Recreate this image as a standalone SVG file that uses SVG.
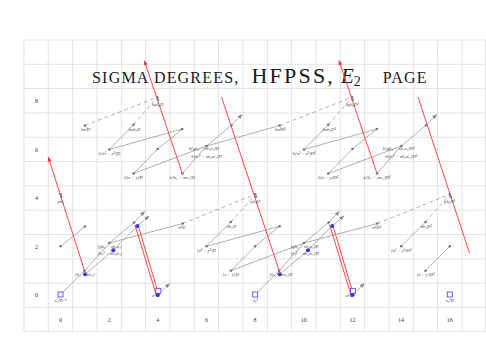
<svg xmlns="http://www.w3.org/2000/svg" width="486" height="350" viewBox="0 0 486 350">
<defs>
<style>
.grid{stroke:#dcdcdc;stroke-width:0.8;fill:none}
.ln{stroke:#9a9a9a;stroke-width:0.8;fill:none}
.ds{stroke:#9a9a9a;stroke-width:0.8;fill:none;stroke-dasharray:4 3}
.rd{stroke:#ff4545;stroke-width:1;fill:none}
.gd{fill:#777}
.bd{fill:#3535dd}
.sq{fill:#fff;stroke:#3c3cff;stroke-width:0.8}
.lb{font-family:"Liberation Serif",serif;font-style:italic;font-size:4.6px;fill:#444;text-anchor:middle}
.ax{font-family:"Liberation Serif",serif;font-size:6px;fill:#333;text-anchor:middle}
</style>
<marker id="ag" viewBox="0 0 10 10" refX="9" refY="5" markerWidth="5" markerHeight="5" markerUnits="userSpaceOnUse" orient="auto"><path d="M0,1 L10,5 L0,9 z" fill="#888"/></marker>
<marker id="ar" viewBox="0 0 10 10" refX="9" refY="5" markerWidth="5" markerHeight="5" markerUnits="userSpaceOnUse" orient="auto"><path d="M0,1 L10,5 L0,9 z" fill="#ff3030"/></marker>
</defs>
<rect width="486" height="350" fill="#fff"/>
<g id="grid">
<path class="grid" d="M24,40V331.7M48.3,40V331.7M72.7,40V331.7M97,40V331.7M121.3,40V331.7M145.6,40V331.7M170,40V331.7M194.3,40V331.7M218.6,40V331.7M243,40V331.7M267.3,40V331.7M291.6,40V331.7M316,40V331.7M340.3,40V331.7M364.6,40V331.7M389,40V331.7M413.3,40V331.7M437.6,40V331.7M462,40V331.7M485.6,40V331.7"/>
<path class="grid" d="M24,40H486M24,64.3H486M24,88.6H486M24,112.9H486M24,137.2H486M24,161.6H486M24,185.9H486M24,210.2H486M24,234.5H486M24,258.8H486M24,283.1H486M24,307.4H486M24,331.7H486"/>
</g>
<g id="axes">
<text class="ax" x="36.5" y="297">0</text>
<text class="ax" x="36.5" y="248.8">2</text>
<text class="ax" x="36.5" y="200.2">4</text>
<text class="ax" x="36.5" y="151.6">6</text>
<text class="ax" x="36.5" y="103">8</text>
<text class="ax" x="60.5" y="321.5">0</text>
<text class="ax" x="109.2" y="321.5">2</text>
<text class="ax" x="157.8" y="321.5">4</text>
<text class="ax" x="206.5" y="321.5">6</text>
<text class="ax" x="255.1" y="321.5">8</text>
<text class="ax" x="303.8" y="321.5">10</text>
<text class="ax" x="352.5" y="321.5">12</text>
<text class="ax" x="401.1" y="321.5">14</text>
<text class="ax" x="449.8" y="321.5">16</text>
</g>
<text id="title" y="82.5" font-family="Liberation Serif, serif" fill="#1a1a1a"><tspan x="92" font-size="16" letter-spacing="1.2">SIGMA DEGREES,</tspan><tspan x="251.5" font-size="22" letter-spacing="2.2">HFPSS,</tspan><tspan x="341" font-size="21" font-style="italic">E</tspan><tspan font-size="14" dy="3">2</tspan><tspan x="382.7" dy="-3" font-size="16" letter-spacing="1.2">PAGE</tspan></text>
<g id="connectors">
<path class="ln" d="M62.5,292.5L84.5,270.7M257.2,292.5L279.2,270.7"/>
<path class="ln" marker-end="url(#ag)" d="M84.5,270.7L109.3,243L134,222.5L144.5,211.5"/>
<path class="ln" marker-end="url(#ag)" d="M85,274.3L113.3,250.3L137.5,226L149,216"/>
<path class="ln" marker-end="url(#ag)" d="M279.2,270.7L304,243L328.7,222.5L339.2,211.5"/>
<path class="ln" marker-end="url(#ag)" d="M279.7,274.3L308,250.3L332.2,226L343.7,216"/>
<path class="ln" marker-end="url(#ag)" d="M157.8,295L169.5,283.5"/>
<path class="ln" marker-end="url(#ag)" d="M352.5,295L364.2,283.5"/>
<path class="ln" d="M109.3,243L182.7,223.5M304,243L377.4,223.5"/>
<path class="ln" marker-end="url(#ag)" d="M182.3,173.5L206.6,146L231.3,125.3L242,114.5"/>
<path class="ln" marker-end="url(#ag)" d="M377,173.5L401.3,146L426,125.3L436.7,114.5"/>
<path class="ln" d="M206.6,146L279.6,125.5"/>
<path class="ln" d="M230.8,270.7L255.1,246.3L279.5,226.3M206.5,246.3L230.8,222M206.5,246.3L279.5,226.3M230.8,270.7L304,243"/>
<path class="ln" d="M425.5,270.7L449.8,246.3M401.2,246.3L425.5,222"/>
<path class="ln" d="M60.6,246.3L84.9,226.5"/>
<path class="ln" d="M133.5,173.5L157.8,149L182.2,129M109.3,149.5L133.5,124.8M109.3,149.5L182.2,129M133.5,173.5L206.6,146"/>
<path class="ln" d="M328.2,173.5L352.5,149L376.9,129M304,149.5L328.2,124.8M304,149.5L376.9,129M328.2,173.5L401.3,146"/>
<path class="ds" d="M182.7,223.5L255.3,194.3M230.8,222L255.3,194.3M377.4,223.5L449.9,194.3M425.5,222L449.9,194.3"/>
<path class="ds" d="M84.9,125.5L157.3,97.3M133.5,124.8L157.3,97.3M279.6,125.5L352,97.3M328.2,124.8L352,97.3"/>
<path class="rd" marker-end="url(#ar)" d="M84.5,270.7L48.3,157"/>
<path class="rd" marker-end="url(#ar)" d="M182.3,173.5L144.3,60.7"/>
<path class="rd" marker-end="url(#ar)" d="M377,173.5L339,60.7"/>
<path class="rd" d="M279.2,270.7L221.5,97M469.5,253L418,97"/>
<path class="rd" d="M135,225L156,294M138.3,226L158.3,293.3M329.7,225L350.7,294M333,226L353,293.3"/>
</g>
<g id="n0_0"><rect class="sq" x="58" y="292" width="5" height="5"/><text class="lb" x="60.5" y="302">x₂²D⁻¹</text></g>
<g id="n4_0"><rect class="sq" x="155.8" y="288.3" width="5" height="5"/><circle class="bd" cx="157.8" cy="295" r="2.1"/><text class="lb" x="155.5" y="297" text-anchor="end">α²D</text></g>
<g id="n8_0"><rect class="sq" x="252.7" y="292" width="5" height="5"/><text class="lb" x="255.2" y="302">x₂²</text></g>
<g id="n12_0"><rect class="sq" x="350.5" y="288.3" width="5" height="5"/><circle class="bd" cx="352.5" cy="295" r="2.1"/><text class="lb" x="350.2" y="297" text-anchor="end">α²D²</text></g>
<g id="n16_0"><rect class="sq" x="447.3" y="292" width="5" height="5"/><text class="lb" x="449.8" y="302">x₂²D</text></g>
<g id="n1_1"><circle class="gd" cx="84.5" cy="270.7" r="1.3"/><text class="lb" x="85" y="276">[h₁ + xm₁]</text><circle class="bd" cx="85" cy="274.3" r="2"/></g>
<g id="n9_1"><circle class="gd" cx="279.2" cy="270.7" r="1.3"/><text class="lb" x="281" y="276">[h₁ + xm₁]D</text><circle class="bd" cx="279.7" cy="274.3" r="2"/></g>
<g id="n7_1"><circle class="gd" cx="230.8" cy="270.7" r="1.3"/><text class="lb" x="230.8" y="275.8">[x + y]D</text></g>
<g id="n15_1"><circle class="gd" cx="425.5" cy="270.7" r="1.3"/><text class="lb" x="425.5" y="275.8">[x + y]D²</text></g>
<g id="n0_2"><circle class="gd" cx="60.6" cy="246.3" r="1.3"/></g>
<g id="n2_2"><circle class="gd" cx="109.3" cy="243" r="1.3"/><text class="lb" x="110" y="248.2">[gh₂ + xh₁x₁]</text><text class="lb" x="110" y="255.2">[h₁² + xh₂m₁]</text><circle class="bd" cx="113.3" cy="250.3" r="2"/></g>
<g id="n10_2"><circle class="gd" cx="304" cy="243" r="1.3"/><text class="lb" x="304.6" y="248.2">[gh₂ + xh₁x₁]D</text><text class="lb" x="304.6" y="255.2">[h₁² + xh₂m₁]D</text><circle class="bd" cx="308" cy="250.3" r="2"/></g>
<g id="n6_2"><circle class="gd" cx="206.5" cy="246.3" r="1.3"/><text class="lb" x="206.5" y="251.6">[x² + y²]D</text></g>
<g id="n8_2"><circle class="gd" cx="255.1" cy="246.3" r="1.3"/></g>
<g id="n14_2"><circle class="gd" cx="401.2" cy="246.3" r="1.3"/><text class="lb" x="401.2" y="251.6">[x² + y²]D²</text></g>
<g id="n16_2"><circle class="gd" cx="449.8" cy="246.3" r="1.3"/></g>
<g id="n1_3"><circle class="gd" cx="84.9" cy="226.5" r="1.3"/></g>
<g id="n3_3"><circle class="gd" cx="134" cy="222.5" r="1.3"/><circle class="bd" cx="137.5" cy="226" r="2"/></g>
<g id="n11_3"><circle class="gd" cx="328.7" cy="222.5" r="1.3"/><circle class="bd" cx="332.2" cy="226" r="2"/></g>
<g id="n5_3"><circle class="gd" cx="182.7" cy="223.5" r="1.3"/><text class="lb" x="182" y="228.6">σ²D</text></g>
<g id="n13_3"><circle class="gd" cx="377.4" cy="223.5" r="1.3"/><text class="lb" x="376.7" y="228.6">σ²D²</text></g>
<g id="n7_3"><circle class="gd" cx="230.8" cy="222" r="1.3"/><text class="lb" x="231.5" y="227.8">σh₂D</text></g>
<g id="n15_3"><circle class="gd" cx="425.5" cy="222" r="1.3"/><text class="lb" x="426.2" y="227.8">σh₂D²</text></g>
<g id="n9_3"><circle class="gd" cx="279.5" cy="226.3" r="1.3"/></g>
<g id="n0_4"><circle class="gd" cx="60.7" cy="194.3" r="1.3"/><circle class="gd" cx="61.3" cy="196.8" r="1.3"/><text class="lb" x="60.5" y="203">ρh₃</text></g>
<g id="n8_4"><circle class="gd" cx="255.3" cy="194.3" r="1.3"/><circle class="gd" cx="255.9" cy="196.8" r="1.3"/><text class="lb" x="255.3" y="203">ρh₃D</text></g>
<g id="n16_4"><circle class="gd" cx="449.9" cy="194.3" r="1.3"/><circle class="gd" cx="450.5" cy="196.8" r="1.3"/><text class="lb" x="449.5" y="203">ρh₃D²</text></g>
<g id="n3_5"><circle class="gd" cx="133.5" cy="173.5" r="1.3"/><text class="lb" x="133.5" y="178.7">h[x + y]D</text></g>
<g id="n5_5"><circle class="gd" cx="182.3" cy="173.5" r="1.3"/><text class="lb" x="182.3" y="178.7">h[h₁ + xm₁]D</text></g>
<g id="n11_5"><circle class="gd" cx="328.2" cy="173.5" r="1.3"/><text class="lb" x="328.2" y="178.7">h[x + y]D²</text></g>
<g id="n13_5"><circle class="gd" cx="377" cy="173.5" r="1.3"/><text class="lb" x="377" y="178.7">h[h₁ + xm₁]D²</text></g>
<g id="n2_6"><circle class="gd" cx="109.3" cy="149.5" r="1.3"/><text class="lb" x="109.3" y="154.6">h[x² + y²]D</text></g>
<g id="n4_6"><circle class="gd" cx="157.8" cy="149" r="1.3"/></g>
<g id="n6_6"><circle class="gd" cx="206.6" cy="146" r="1.3"/><text class="lb" x="204" y="150">h[gh₂ + xh₁x₁]D</text><text class="lb" x="206.5" y="158">h[h₁² + xh₂m₁]D</text></g>
<g id="n10_6"><circle class="gd" cx="304" cy="149.5" r="1.3"/><text class="lb" x="304" y="154.6">h[x² + y²]D²</text></g>
<g id="n12_6"><circle class="gd" cx="352.5" cy="149" r="1.3"/></g>
<g id="n14_6"><circle class="gd" cx="401.3" cy="146" r="1.3"/><text class="lb" x="398.7" y="150">h[gh₂ + xh₁x₁]D²</text><text class="lb" x="401.2" y="158">h[h₁² + xh₂m₁]D²</text></g>
<g id="n1_7"><circle class="gd" cx="84.9" cy="125.5" r="1.3"/><text class="lb" x="85.5" y="130.5">hσ²D</text></g>
<g id="n3_7"><circle class="gd" cx="133.5" cy="124.8" r="1.3"/><text class="lb" x="134.5" y="130.5">hσh₂D</text></g>
<g id="n5_7"><circle class="gd" cx="182.2" cy="129" r="1.3"/></g>
<g id="n7_7"><circle class="gd" cx="231.3" cy="125.3" r="1.3"/></g>
<g id="n9_7"><circle class="gd" cx="279.6" cy="125.5" r="1.3"/><text class="lb" x="280.2" y="130.5">hσ²D²</text></g>
<g id="n11_7"><circle class="gd" cx="328.2" cy="124.8" r="1.3"/><text class="lb" x="329.2" y="130.5">hσh₂D²</text></g>
<g id="n13_7"><circle class="gd" cx="376.9" cy="129" r="1.3"/></g>
<g id="n15_7"><circle class="gd" cx="426" cy="125.3" r="1.3"/></g>
<g id="n4_8"><circle class="gd" cx="157.3" cy="97.3" r="1.3"/><circle class="gd" cx="157.9" cy="99.8" r="1.3"/><text class="lb" x="157.5" y="105.8">hρh₃D</text></g>
<g id="n12_8"><circle class="gd" cx="352" cy="97.3" r="1.3"/><circle class="gd" cx="352.6" cy="99.8" r="1.3"/><text class="lb" x="352.2" y="105.8">hρh₃D²</text></g>
</svg>
